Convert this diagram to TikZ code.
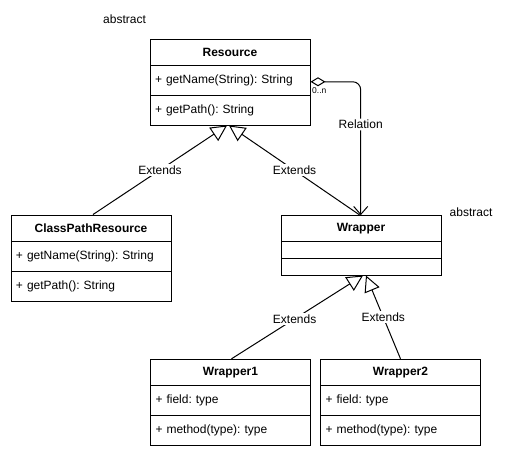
\documentclass[tikz,border=0pt]{standalone}
\usepackage{fontspec}
\setmainfont{Liberation Sans}
\usetikzlibrary{arrows.meta}
\frenchspacing
\begin{document}
\begin{tikzpicture}[x=1pt,y=-1pt,
  every node/.style={font=\fontsize{12}{14}\selectfont},
  box/.style={draw, line width=1pt, inner sep=0pt, minimum width=160pt},
  ttl/.style={box, font=\fontsize{12}{14}\selectfont\bfseries},
  mem/.style={box, text width=150pt, inner xsep=5pt, align=left},
  lbl/.style={fill=white, inner sep=1.5pt},
  ext/.style={line width=1pt, -{Triangle[open, length=16pt, width=16pt]}},
  rel/.style={line width=1pt, rounded corners=8pt,
    {Diamond[open, length=15pt, width=9pt]}-{Straight Barb[length=8pt, width=14pt]}}
]
\useasboundingbox (0,0) rectangle (518,459);

% Resource
\node[ttl, minimum height=26pt] (resT) at (230,52.5) {Resource};
\node[mem, minimum height=29.5pt] (resA) at (230,80.25) {+ getName(String): String};
\node[mem, minimum height=30pt] (resM) at (230,110) {+ getPath(): String};
\node (absR) at (124.5,19) {abstract};

% ClassPathResource
\node[ttl, minimum height=26.7pt] (cprT) at (91,228.35) {ClassPathResource};
\node[mem, minimum height=30pt] (cprA) at (91,256.7) {+ getName(String): String};
\node[mem, minimum height=29.3pt] (cprM) at (91,286.35) {+ getPath(): String};

% Wrapper
\node[ttl, minimum height=26pt] (wrT) at (361,228.7) {Wrapper};
\node[box, minimum height=16.3pt] (wrA) at (361,249.85) {};
\node[box, minimum height=17pt] (wrM) at (361,266.5) {};
\node (absW) at (471,212) {abstract};

% Wrapper1
\node[ttl, minimum height=26.4pt] (w1T) at (230.5,372.5) {Wrapper1};
\node[mem, minimum height=30pt] (w1A) at (230.5,400.7) {+ field: type};
\node[mem, minimum height=29.3pt] (w1M) at (230.5,430.35) {+ method(type): type};

% Wrapper2
\node[ttl, minimum height=26.4pt] (w2T) at (400.5,372.5) {Wrapper2};
\node[mem, minimum height=30pt] (w2A) at (400.5,400.7) {+ field: type};
\node[mem, minimum height=29.3pt] (w2M) at (400.5,430.35) {+ method(type): type};

% Connectors
\draw[ext] ([xshift=2pt]cprT.north) -- node[lbl, pos=0.5] {Extends} ([xshift=-3pt]resM.south);
\draw[ext] ([xshift=-1pt]wrT.north) -- node[lbl, pos=0.5] {Extends} ([xshift=-1pt]resM.south);
\draw[ext] ([xshift=1pt]w1T.north) -- node[lbl, pos=0.48] {Extends} ([xshift=2pt]wrM.south);
\draw[ext] ([xshift=0pt]w2T.north) -- node[lbl, pos=0.5] {Extends} ([xshift=5pt]wrM.south);
\draw[rel] ([yshift=-1.5pt]resA.east) -| node[lbl, pos=0.66] {Relation} ([xshift=-0.3pt]wrT.north);
\node[font=\fontsize{8.5}{10}\selectfont, anchor=west, inner sep=0pt] (card) at (312,91) {0..n};
\end{tikzpicture}
\end{document}
